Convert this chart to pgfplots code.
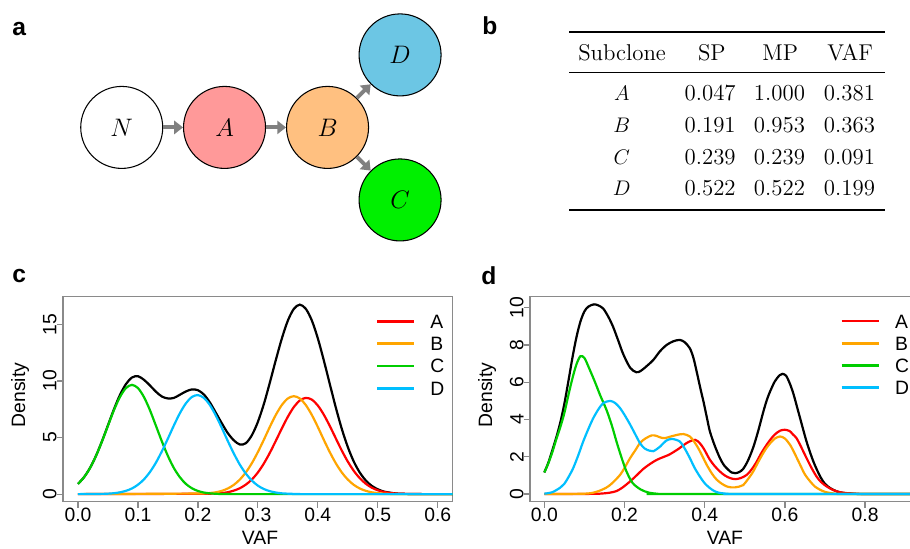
\documentclass[border=0pt]{standalone}
\usepackage{pgfplots}
\pgfplotsset{compat=1.18}
\usepackage{fontspec}
\usetikzlibrary{arrows.meta}
\newfontfamily\arial{Liberation Sans}

\definecolor{cA}{HTML}{FF0000}
\definecolor{cB}{HTML}{FFA500}
\definecolor{cC}{HTML}{00CD00}
\definecolor{cD}{HTML}{00BFFF}
\definecolor{boxgray}{HTML}{8A8A8A}
\definecolor{nodeA}{HTML}{FF9999}
\definecolor{nodeB}{HTML}{FFC080}
\definecolor{nodeC}{HTML}{00F000}
\definecolor{nodeD}{HTML}{6CC6E4}
\definecolor{arrowgray}{HTML}{808080}

\pgfplotsset{
  rstyle/.style={
    scale only axis, height=4.1cm,
    axis line style={boxgray, line width=0.7pt},
    tick style={boxgray, line width=0.7pt},
    tick align=outside, major tick length=0.12cm,
    xtick pos=left, ytick pos=left,
    tick label style={font=\arial\fontsize{11}{13}\selectfont,
      /pgf/number format/assume math mode=true, inner sep=0pt},
    xticklabel style={anchor=north, /pgf/number format/fixed,
      /pgf/number format/fixed zerofill, /pgf/number format/precision=1},
    yticklabel style={rotate=90, anchor=south},
    xlabel={VAF}, ylabel={Density},
    legend style={draw=none, fill=none, inner sep=0pt, row sep=1.65mm,
      font=\arial\fontsize{11}{13}\selectfont,
      nodes={inner sep=0pt, text height=2.8mm, text depth=0pt},
      /tikz/every odd column/.append style={column sep=0.3cm}},
    legend cell align=left,
    legend image code/.code={\draw[#1, line width=1.5pt] (0cm,0cm) -- (0.74cm,0cm);},
    every axis plot/.append style={line width=1.25pt, smooth},
  }
}

\begin{document}
\begin{tikzpicture}

% ---- panel a: tree ----
\begin{scope}[x=0.02cm, y=0.02cm]
  \tikzset{sc/.style={circle, draw=black, line width=0.6pt, minimum size=1.64cm,
      inner sep=0pt, font=\fontsize{14}{16}\selectfont}}
  \node[sc, fill=white] (N) at (121.7,420.5) {$N$};
  \node[sc, fill=nodeA] (A) at (224.5,420.5) {$A$};
  \node[sc, fill=nodeB] (B) at (327.5,420.5) {$B$};
  \node[sc, fill=nodeD] (D) at (400,493) {$D$};
  \node[sc, fill=nodeC] (C) at (400,348) {$C$};
  \foreach \s/\t in {N/A, A/B, B/D, B/C}
    \draw[arrowgray, line width=2.2pt, -{Triangle[length=5pt, width=7.5pt]}] (\s) -- (\t);

  % ---- panel b: table ----
  \draw[line width=1.1pt] (569.3,515.7) -- (885,515.7);
  \draw[line width=0.6pt] (569.3,475.3) -- (885,475.3);
  \draw[line width=1.1pt] (569.3,338) -- (885,338);
  \tikzset{tc/.style={anchor=base, inner sep=0pt, font=\fontsize{13}{15}\selectfont}}
  \node[tc] at (622,487.3) {Subclone};
  \node[tc] at (711.7,487.3) {SP};
  \node[tc] at (780,487.3) {MP};
  \node[tc] at (850,487.3) {VAF};
  \foreach \l/\sp/\mp/\vf/\yy in {A/0.047/1.000/0.381/447.3, B/0.191/0.953/0.363/415.6,
      C/0.239/0.239/0.091/383.9, D/0.522/0.522/0.199/352.3} {
    \node[tc] at (621.7,\yy) {$\l$};
    \node[tc] at (710,\yy) {\sp};
    \node[tc] at (779.3,\yy) {\mp};
    \node[tc] at (849.3,\yy) {\vf};
  }

  % panel letters
  \tikzset{pl/.style={anchor=base west, inner sep=0pt, font=\arial\bfseries\fontsize{14}{16}\selectfont}}
  \node[pl] at (12,512) {a};
  \node[pl] at (482,513) {b};
  \node[pl] at (12,265) {c};
  \node[pl] at (481,263) {d};
\end{scope}

% ---- panel c ----
\begin{axis}[rstyle, name=c, at={(1.26cm,0.926cm)}, anchor=south west,
  width=7.794cm,
  xmin=-0.025, xmax=0.625, ymin=-0.67, ymax=17.44,
  xtick={0,0.1,0.2,0.3,0.4,0.5,0.6}, ytick={0,5,10,15},
  every axis x label/.style={at={(axis description cs:0.5055,-0.1785)}, anchor=center,
    font=\arial\fontsize{11}{13}\selectfont},
  every axis y label/.style={at={(axis description cs:-0.110,0.52)}, anchor=center, rotate=90,
    font=\arial\fontsize{11}{13}\selectfont},
  legend style={at={(0.8015,0.915)}, anchor=north west}]
\addplot[black, forget plot] coordinates {(0,0.90)(0.01,1.49)(0.02,2.31)(0.03,3.38)(0.04,4.67)(0.05,6.08)(0.06,7.50)(0.07,8.76)(0.08,9.72)(0.09,10.3)(0.10,10.42)(0.11,10.1)(0.12,9.6)(0.13,9.05)(0.14,8.62)(0.15,8.45)(0.16,8.5)(0.17,8.78)(0.18,9.07)(0.19,9.25)(0.20,9.18)(0.21,8.8)(0.22,8.1)(0.23,7.18)(0.24,6.25)(0.25,5.38)(0.26,4.75)(0.27,4.38)(0.28,4.5)(0.29,5.2)(0.30,6.37)(0.31,7.95)(0.32,9.85)(0.33,11.85)(0.34,13.74)(0.35,15.32)(0.36,16.36)(0.37,16.74)(0.38,16.37)(0.39,15.35)(0.40,13.77)(0.41,11.82)(0.42,9.73)(0.43,7.66)(0.44,5.77)(0.45,4.17)(0.46,2.88)(0.47,1.91)(0.48,1.21)(0.49,0.73)(0.50,0.43)(0.51,0.23)(0.52,0.13)(0.53,0.06)(0.54,0.03)(0.56,0.01)(0.58,0)(0.63,0)};
\addplot[cA] coordinates {(0,0)(0.15,0.02)(0.20,0.03)(0.22,0.04)(0.23,0.05)(0.24,0.09)(0.25,0.17)(0.26,0.31)(0.27,0.52)(0.28,0.84)(0.29,1.29)(0.30,1.91)(0.31,2.70)(0.32,3.65)(0.33,4.71)(0.34,5.80)(0.35,6.83)(0.36,7.69)(0.37,8.27)(0.38,8.50)(0.39,8.35)(0.40,7.83)(0.41,7.02)(0.42,6.02)(0.43,4.93)(0.44,3.85)(0.45,2.88)(0.46,2.06)(0.47,1.41)(0.48,0.92)(0.49,0.57)(0.50,0.34)(0.51,0.19)(0.52,0.11)(0.53,0.05)(0.54,0.03)(0.56,0.01)(0.58,0)(0.63,0)};
\addplot[cB] coordinates {(0,0)(0.10,0.02)(0.16,0.04)(0.20,0.05)(0.21,0.06)(0.22,0.10)(0.23,0.16)(0.24,0.29)(0.25,0.50)(0.26,0.82)(0.27,1.29)(0.28,1.92)(0.29,2.73)(0.30,3.71)(0.31,4.80)(0.32,5.94)(0.33,7.00)(0.34,7.87)(0.35,8.45)(0.36,8.65)(0.37,8.45)(0.38,7.87)(0.39,7.00)(0.40,5.94)(0.41,4.80)(0.42,3.71)(0.43,2.73)(0.44,1.92)(0.45,1.29)(0.46,0.82)(0.47,0.50)(0.48,0.29)(0.49,0.16)(0.50,0.09)(0.51,0.04)(0.52,0.02)(0.54,0)(0.63,0)};
\addplot[cC] coordinates {(0,0.90)(0.01,1.49)(0.02,2.30)(0.03,3.37)(0.04,4.65)(0.05,6.04)(0.06,7.42)(0.07,8.58)(0.08,9.37)(0.09,9.65)(0.10,9.37)(0.11,8.58)(0.12,7.42)(0.13,6.04)(0.14,4.65)(0.15,3.37)(0.16,2.30)(0.17,1.49)(0.18,0.90)(0.19,0.52)(0.20,0.28)(0.21,0.14)(0.22,0.07)(0.23,0.03)(0.24,0.01)(0.26,0)(0.30,0)(0.63,0)};
\addplot[cD] coordinates {(0,0)(0.04,0.02)(0.05,0.04)(0.06,0.08)(0.07,0.16)(0.08,0.29)(0.09,0.50)(0.10,0.83)(0.11,1.30)(0.12,1.95)(0.13,2.78)(0.14,3.79)(0.15,4.91)(0.16,6.07)(0.17,7.15)(0.18,8.02)(0.19,8.58)(0.20,8.75)(0.21,8.50)(0.22,7.87)(0.23,6.94)(0.24,5.84)(0.25,4.68)(0.26,3.58)(0.27,2.60)(0.28,1.81)(0.29,1.20)(0.30,0.75)(0.31,0.45)(0.32,0.26)(0.33,0.14)(0.34,0.07)(0.35,0.04)(0.36,0.02)(0.38,0)(0.63,0)};
\legend{A,B,C,D}
\end{axis}

% ---- panel d ----
\begin{axis}[rstyle, name=d, at={(10.6cm,0.926cm)}, anchor=south west,
  width=7.736cm,
  xmin=-0.0357, xmax=0.929, ymin=-0.41, ymax=10.59,
  xtick={0,0.2,0.4,0.6,0.8}, ytick={0,2,4,6,8,10},
  every axis x label/.style={at={(axis description cs:0.504,-0.1785)}, anchor=center,
    font=\arial\fontsize{11}{13}\selectfont},
  every axis y label/.style={at={(axis description cs:-0.111,0.52)}, anchor=center, rotate=90,
    font=\arial\fontsize{11}{13}\selectfont},
  legend style={at={(0.8015,0.917)}, anchor=north west}]
\addplot[black, forget plot] coordinates {(0,1.16)(0.01,1.68)(0.02,2.35)(0.03,3.05)(0.04,3.85)(0.05,4.85)(0.06,6.05)(0.07,7.3)(0.08,8.4)(0.09,9.25)(0.10,9.8)(0.11,10.06)(0.124,10.18)(0.135,10.12)(0.147,9.95)(0.16,9.5)(0.172,8.95)(0.185,8.2)(0.197,7.5)(0.214,6.78)(0.229,6.54)(0.24,6.6)(0.255,6.86)(0.272,7.2)(0.288,7.65)(0.305,8.0)(0.322,8.2)(0.338,8.27)(0.35,8.15)(0.363,7.82)(0.372,7.3)(0.38,6.57)(0.39,5.6)(0.397,4.96)(0.405,4.15)(0.413,3.36)(0.425,2.6)(0.438,1.93)(0.448,1.55)(0.459,1.3)(0.467,1.16)(0.476,1.12)(0.486,1.18)(0.496,1.35)(0.508,1.8)(0.521,2.5)(0.533,3.35)(0.546,4.4)(0.555,5.05)(0.563,5.5)(0.575,6.05)(0.587,6.38)(0.594,6.45)(0.603,6.35)(0.612,5.95)(0.621,5.4)(0.63,4.7)(0.638,4.07)(0.654,2.82)(0.671,1.75)(0.688,0.94)(0.70,0.55)(0.713,0.32)(0.73,0.14)(0.746,0.06)(0.77,0.02)(0.8,0)(0.93,0)};
\addplot[cA] coordinates {(0,0)(0.12,0.01)(0.15,0.04)(0.165,0.08)(0.18,0.16)(0.195,0.35)(0.214,0.68)(0.23,1.0)(0.247,1.35)(0.264,1.62)(0.28,1.83)(0.295,1.97)(0.31,2.1)(0.322,2.25)(0.335,2.43)(0.347,2.62)(0.36,2.8)(0.376,2.91)(0.387,2.75)(0.397,2.46)(0.405,2.15)(0.413,1.84)(0.425,1.5)(0.438,1.21)(0.45,1.0)(0.463,0.86)(0.476,0.8)(0.49,0.86)(0.505,1.03)(0.518,1.35)(0.53,1.75)(0.54,2.15)(0.55,2.5)(0.563,2.9)(0.575,3.2)(0.588,3.4)(0.60,3.45)(0.612,3.38)(0.62,3.2)(0.629,3.0)(0.64,2.55)(0.654,1.93)(0.667,1.38)(0.679,0.94)(0.69,0.65)(0.704,0.41)(0.72,0.22)(0.737,0.1)(0.76,0.04)(0.787,0.01)(0.82,0)(0.93,0)};
\addplot[cB] coordinates {(0,0)(0.10,0.02)(0.13,0.12)(0.155,0.35)(0.17,0.6)(0.189,1.03)(0.20,1.4)(0.214,1.93)(0.227,2.35)(0.239,2.75)(0.252,2.98)(0.268,3.15)(0.28,3.12)(0.289,3.04)(0.30,3.0)(0.314,3.08)(0.33,3.17)(0.347,3.22)(0.363,3.09)(0.374,2.8)(0.384,2.46)(0.395,2.0)(0.405,1.57)(0.418,1.1)(0.43,0.77)(0.443,0.55)(0.455,0.41)(0.466,0.36)(0.476,0.36)(0.486,0.4)(0.496,0.48)(0.508,0.8)(0.521,1.21)(0.533,1.7)(0.546,2.2)(0.555,2.5)(0.563,2.72)(0.575,2.98)(0.588,3.09)(0.60,2.98)(0.613,2.64)(0.625,2.15)(0.638,1.57)(0.65,1.05)(0.663,0.68)(0.675,0.4)(0.688,0.23)(0.70,0.12)(0.721,0.03)(0.75,0)(0.93,0)};
\addplot[cC] coordinates {(0,1.16)(0.01,1.65)(0.02,2.25)(0.03,2.95)(0.04,3.6)(0.05,4.35)(0.06,5.3)(0.07,6.2)(0.08,6.95)(0.09,7.4)(0.10,7.3)(0.11,6.84)(0.126,6.03)(0.139,5.32)(0.155,4.52)(0.168,3.71)(0.18,2.82)(0.193,1.93)(0.205,1.21)(0.22,0.6)(0.24,0.25)(0.26,0.08)(0.28,0.02)(0.30,0)(0.93,0)};
\addplot[cD] coordinates {(0,0.02)(0.02,0.1)(0.04,0.35)(0.05,0.55)(0.06,0.9)(0.072,1.39)(0.085,2.1)(0.097,2.82)(0.11,3.5)(0.122,4.07)(0.135,4.55)(0.147,4.88)(0.164,5.0)(0.177,4.88)(0.189,4.61)(0.20,4.25)(0.214,3.73)(0.227,3.2)(0.239,2.72)(0.25,2.45)(0.262,2.33)(0.272,2.3)(0.289,2.55)(0.303,2.85)(0.318,2.96)(0.338,2.82)(0.35,2.45)(0.363,1.93)(0.375,1.4)(0.388,0.94)(0.40,0.58)(0.413,0.32)(0.425,0.15)(0.438,0.06)(0.46,0.01)(0.48,0)(0.93,0)};
\legend{A,B,C,D}
\end{axis}

\pgfresetboundingbox
\useasboundingbox (0,0) rectangle (18.2cm,10.96cm);
\end{tikzpicture}
\end{document}
